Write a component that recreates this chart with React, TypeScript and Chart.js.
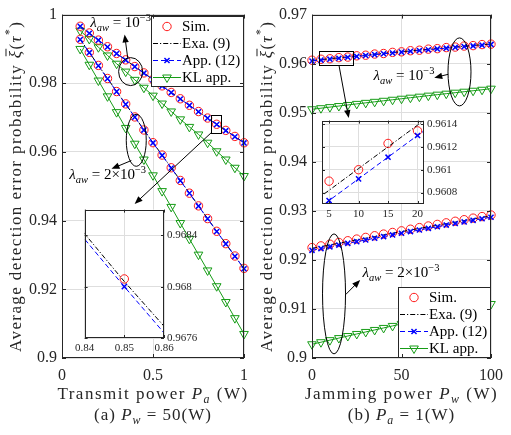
import React, { useEffect, useRef } from "react";
import { Chart, registerables } from "chart.js";

Chart.register(...registerables);

const FONT = '"Liberation Serif", "Times New Roman", Times, serif';
const TXT = "#262626";
const AXIS = "#262626";
const GRID = "#dedede";
const RED = "#ff1a1a";
const BLUE = "#0000ff";
const BLACK = "#000000";
const GREEN = "#169c16";

// ---------------- data: panel (a), Pw = 50 W ----------------
const transmitPower = [0.1, 0.15, 0.2, 0.25, 0.3, 0.35, 0.4, 0.45, 0.5, 0.55, 0.6, 0.65, 0.7, 0.75, 0.8, 0.85, 0.9, 0.95, 1.0];
// lambda_aw = 1e-3
const simA1 = [0.9966, 0.99465, 0.99258, 0.99064, 0.98868, 0.98682, 0.98487, 0.98302, 0.98109, 0.97925, 0.97732, 0.97549, 0.97359, 0.97177, 0.96988, 0.96806, 0.96628, 0.96452, 0.96268];
const exaA1 = [0.99662, 0.99461, 0.99261, 0.99062, 0.9887, 0.98679, 0.98489, 0.983, 0.98111, 0.97922, 0.97734, 0.97547, 0.97361, 0.97175, 0.9699, 0.96804, 0.9663, 0.9645, 0.9627];
const appA1 = [0.99657, 0.99456, 0.99256, 0.99057, 0.98865, 0.98674, 0.98484, 0.98295, 0.98106, 0.97917, 0.97729, 0.97542, 0.97356, 0.9717, 0.96985, 0.968, 0.9662, 0.96444, 0.96264];
const klA1 = [0.9953, 0.9929, 0.9905, 0.9881, 0.9857, 0.9834, 0.981, 0.9787, 0.9764, 0.9741, 0.9718, 0.9695, 0.9673, 0.9651, 0.9627, 0.9602, 0.9578, 0.9554, 0.953];
// lambda_aw = 2e-3
const simA2 = [0.9928, 0.989, 0.9852, 0.9814, 0.9776, 0.974, 0.9702, 0.9664, 0.9627, 0.9591, 0.9554, 0.9517, 0.948, 0.9443, 0.9406, 0.9369, 0.9333, 0.9297, 0.9261];
const exaA2 = [0.99281, 0.98899, 0.98519, 0.98141, 0.97765, 0.97395, 0.97022, 0.96645, 0.96272, 0.95908, 0.95542, 0.95172, 0.94805, 0.94432, 0.94062, 0.93693, 0.9333, 0.92968, 0.92608];
const appA2 = [0.99273, 0.98891, 0.98511, 0.98133, 0.97757, 0.97387, 0.97014, 0.96637, 0.96264, 0.959, 0.95534, 0.95164, 0.94797, 0.94424, 0.94054, 0.93685, 0.93322, 0.9296, 0.926];
const klA2 = [0.99, 0.9854, 0.9808, 0.9762, 0.9716, 0.967, 0.9624, 0.9578, 0.9532, 0.9486, 0.944, 0.9393, 0.9347, 0.9301, 0.9255, 0.9209, 0.9163, 0.9116, 0.907];

// ---------------- data: panel (b), Pa = 1 W ----------------
const jammingPower = [0, 5, 10, 15, 20, 25, 30, 35, 40, 45, 50, 55, 60, 65, 70, 75, 80, 85, 90, 95, 100];
const simB1 = [0.9607, 0.9609, 0.961, 0.96123, 0.96134, 0.9616, 0.96172, 0.96196, 0.96207, 0.9623, 0.96241, 0.96264, 0.96274, 0.96296, 0.96306, 0.96328, 0.96338, 0.96359, 0.96368, 0.96389, 0.96398];
const exaB1 = [0.96063, 0.96082, 0.96101, 0.9612, 0.96139, 0.96157, 0.96175, 0.96193, 0.9621, 0.96227, 0.96244, 0.96261, 0.96277, 0.96293, 0.96309, 0.96325, 0.96341, 0.96356, 0.96371, 0.96386, 0.96401];
const appB1 = [0.96054, 0.96073, 0.96092, 0.96111, 0.9613, 0.96148, 0.96166, 0.96184, 0.96201, 0.96218, 0.96235, 0.96252, 0.96268, 0.96284, 0.963, 0.96316, 0.96332, 0.96347, 0.96362, 0.96377, 0.96392];
const klB1 = [0.9507, 0.95092, 0.95114, 0.95136, 0.95158, 0.9518, 0.95201, 0.95222, 0.95243, 0.95264, 0.95285, 0.95306, 0.95327, 0.95348, 0.95368, 0.95388, 0.95408, 0.95428, 0.95448, 0.95468, 0.9549];
const simB2 = [0.9225, 0.92285, 0.9232, 0.92355, 0.9239, 0.92424, 0.92458, 0.92492, 0.92526, 0.92559, 0.92592, 0.92625, 0.92658, 0.92691, 0.92723, 0.92755, 0.92787, 0.92819, 0.92851, 0.92883, 0.92915];
const exaB2 = [0.92235, 0.9227, 0.92305, 0.9234, 0.92374, 0.92408, 0.92442, 0.92476, 0.9251, 0.92543, 0.92576, 0.92609, 0.92642, 0.92674, 0.92706, 0.92738, 0.9277, 0.92802, 0.92834, 0.92866, 0.92898];
const appB2 = [0.92195, 0.92231, 0.92266, 0.92302, 0.92337, 0.92372, 0.92406, 0.92441, 0.92475, 0.92509, 0.92543, 0.92577, 0.9261, 0.92643, 0.92676, 0.92709, 0.92742, 0.92774, 0.92806, 0.92838, 0.9287];
const klB2 = [0.9028, 0.90322, 0.90364, 0.90406, 0.90448, 0.9049, 0.90531, 0.90572, 0.90613, 0.90654, 0.90695, 0.90736, 0.90777, 0.90818, 0.90859, 0.909, 0.90941, 0.90981, 0.91021, 0.91061, 0.91101];

// ---------------- ticks & labels ----------------
const leftXTicks = [0, 0.5, 1];
const leftYTicks = [0.9, 0.92, 0.94, 0.96, 0.98, 1];
const rightXTicks = [0, 50, 100];
const rightYTicks = [0.9, 0.91, 0.92, 0.93, 0.94, 0.95, 0.96, 0.97];
const insetAXTicks = [0.84, 0.85, 0.86];
const insetAYTicks = [0.9676, 0.968, 0.9684];
const insetBXTicks = [5, 10, 15, 20];
const insetBYTicks = [0.9608, 0.961, 0.9612, 0.9614];
const legendLabels = ["Sim.", "Exa. (9)", "App. (12)", "KL app."];

type Seg = { t: string; it?: boolean; sub?: boolean; sup?: boolean; bar?: boolean };

const yTitle: Seg[] = [{ t: "Average detection error probability " }, { t: "ξ", it: true, bar: true }, { t: "(" }, { t: "τ", it: true }, { t: "*", sup: true }, { t: ")" }];
const xTitleA: Seg[] = [{ t: "Transmit power " }, { t: "P", it: true }, { t: "a", it: true, sub: true }, { t: " (W)" }];
const captionA: Seg[] = [{ t: "(a) " }, { t: "P", it: true }, { t: "w", it: true, sub: true }, { t: " = 50(W)" }];
const xTitleB: Seg[] = [{ t: "Jamming power " }, { t: "P", it: true }, { t: "w", it: true, sub: true }, { t: " (W)" }];
const captionB: Seg[] = [{ t: "(b) " }, { t: "P", it: true }, { t: "a", it: true, sub: true }, { t: " = 1(W)" }];
const lambda1: Seg[] = [{ t: "λ", it: true }, { t: "aw", it: true, sub: true }, { t: " = 10" }, { t: "−3", sup: true }];
const lambda2: Seg[] = [{ t: "λ", it: true }, { t: "aw", it: true, sub: true }, { t: " = 2×10" }, { t: "−3", sup: true }];

type Note =
  | { kind: "ellipse"; x: number; y: number; rx: number; ry: number }
  | { kind: "arrow"; x1: number; y1: number; x2: number; y2: number }
  | { kind: "rect"; x1: number; y1: number; x2: number; y2: number }
  | { kind: "text"; x: number; y: number; segs: Seg[] };

// annotation anchors in data coordinates
const notesA: Note[] = [
  { kind: "ellipse", x: 0.377, y: 0.9834, rx: 12, ry: 14 },
  { kind: "arrow", x1: 0.361, y1: 0.98743, x2: 0.344, y2: 0.9942 },
  { kind: "text", x: 0.322, y: 0.99771, segs: lambda1 },
  { kind: "ellipse", x: 0.408, y: 0.9634, rx: 10, ry: 26 },
  { kind: "arrow", x1: 0.381, y1: 0.9575, x2: 0.272, y2: 0.9551 },
  { kind: "text", x: 0.251, y: 0.95343, segs: lambda2 },
  { kind: "rect", x1: 0.82, y1: 0.9709, x2: 0.873, y2: 0.9656 },
  { kind: "arrow", x1: 0.82, y1: 0.9656, x2: 0.399, y2: 0.94486 },
];
const notesB: Note[] = [
  { kind: "ellipse", x: 82.4, y: 0.95832, rx: 11.5, ry: 34 },
  { kind: "arrow", x1: 76.05, y1: 0.95782, x2: 68.3, y2: 0.95715 },
  { kind: "text", x: 51.4, y: 0.95768, segs: lambda1 },
  { kind: "rect", x1: 3.8, y1: 0.96248, x2: 22.7, y2: 0.95962 },
  { kind: "arrow", x1: 15.1, y1: 0.95962, x2: 20.5, y2: 0.9489 },
  { kind: "ellipse", x: 12.3, y: 0.91307, rx: 11.5, ry: 60 },
  { kind: "arrow", x1: 18.76, y1: 0.91291, x2: 26.9, y2: 0.91591 },
  { kind: "text", x: 49.7, y: 0.91756, segs: lambda2 },
];

// ---------------- drawing helpers ----------------
function segFont(s: Seg, size: number) {
  const fs = s.sub || s.sup ? size * 0.7 : size;
  return `${s.it ? "italic " : ""}${fs}px ${FONT}`;
}

function drawRich(ctx: any, segs: Seg[], x: number, y: number, size: number, opts: { align?: string; rotate?: number; spacing?: number; color?: string } = {}) {
  ctx.save();
  ctx.translate(x, y);
  if (opts.rotate) ctx.rotate(opts.rotate);
  ctx.letterSpacing = `${opts.spacing ?? 0}px`;
  ctx.textBaseline = "alphabetic";
  ctx.textAlign = "left";
  ctx.fillStyle = opts.color ?? TXT;
  ctx.strokeStyle = opts.color ?? TXT;
  const widths = segs.map((s) => {
    ctx.font = segFont(s, size);
    return ctx.measureText(s.t).width;
  });
  const total = widths.reduce((a, b) => a + b, 0);
  let cx = opts.align === "left" ? 0 : opts.align === "right" ? -total : -total / 2;
  const base = size * 0.33;
  segs.forEach((s, i) => {
    ctx.font = segFont(s, size);
    const dy = s.sub ? size * 0.25 : s.sup ? -size * 0.42 : 0;
    ctx.fillText(s.t, cx, base + dy);
    if (s.bar) {
      ctx.lineWidth = Math.max(1, size * 0.06);
      ctx.beginPath();
      ctx.moveTo(cx + size * 0.12, base - size * 0.86);
      ctx.lineTo(cx + widths[i] + size * 0.05, base - size * 0.86);
      ctx.stroke();
    }
    cx += widths[i];
  });
  ctx.restore();
}

function drawMarker(ctx: any, style: string, x: number, y: number, r: number, color: string, lw: number, rot = 0) {
  ctx.save();
  ctx.strokeStyle = color;
  ctx.lineWidth = lw;
  ctx.setLineDash([]);
  ctx.beginPath();
  if (style === "circle") {
    ctx.arc(x, y, r, 0, Math.PI * 2);
  } else if (style === "crossRot") {
    const d = r * Math.SQRT1_2;
    ctx.moveTo(x - d, y - d);
    ctx.lineTo(x + d, y + d);
    ctx.moveTo(x + d, y - d);
    ctx.lineTo(x - d, y + d);
  } else if (style === "triangle") {
    let rad = (rot * Math.PI) / 180;
    ctx.moveTo(x + Math.sin(rad) * r, y - Math.cos(rad) * r);
    rad += (2 * Math.PI) / 3;
    ctx.lineTo(x + Math.sin(rad) * r, y - Math.cos(rad) * r);
    rad += (2 * Math.PI) / 3;
    ctx.lineTo(x + Math.sin(rad) * r, y - Math.cos(rad) * r);
    ctx.closePath();
  }
  ctx.stroke();
  ctx.restore();
}

function drawFrame(ctx: any, chart: any, tickLen: number) {
  const a = chart.chartArea;
  const xs = chart.scales.x;
  const ys = chart.scales.y;
  ctx.save();
  ctx.strokeStyle = AXIS;
  ctx.lineWidth = 1;
  ctx.setLineDash([]);
  ctx.beginPath();
  xs.ticks.forEach((t: any) => {
    const px = Math.round(xs.getPixelForValue(t.value)) + 0.5;
    ctx.moveTo(px, a.bottom);
    ctx.lineTo(px, a.bottom - tickLen);
    ctx.moveTo(px, a.top);
    ctx.lineTo(px, a.top + tickLen);
  });
  ys.ticks.forEach((t: any) => {
    const py = Math.round(ys.getPixelForValue(t.value)) + 0.5;
    ctx.moveTo(a.left, py);
    ctx.lineTo(a.left + tickLen, py);
    ctx.moveTo(a.right, py);
    ctx.lineTo(a.right - tickLen, py);
  });
  ctx.stroke();
  ctx.strokeRect(Math.round(a.left) + 0.5, Math.round(a.top) + 0.5, Math.round(a.right - a.left) - 1, Math.round(a.bottom - a.top) - 1);
  ctx.restore();
}

function drawArrow(ctx: any, x1: number, y1: number, x2: number, y2: number) {
  const ang = Math.atan2(y2 - y1, x2 - x1);
  const L = 8;
  const W = 3.2;
  ctx.beginPath();
  ctx.moveTo(x1, y1);
  ctx.lineTo(x2 - Math.cos(ang) * L * 0.8, y2 - Math.sin(ang) * L * 0.8);
  ctx.stroke();
  ctx.beginPath();
  ctx.moveTo(x2, y2);
  ctx.lineTo(x2 - Math.cos(ang) * L - Math.sin(ang) * W, y2 - Math.sin(ang) * L + Math.cos(ang) * W);
  ctx.lineTo(x2 - Math.cos(ang) * L + Math.sin(ang) * W, y2 - Math.sin(ang) * L - Math.cos(ang) * W);
  ctx.closePath();
  ctx.fill();
}

function drawLegend(ctx: any, chart: any, corner: "tr" | "br") {
  const a = chart.chartArea;
  const w = 93;
  const h = 71;
  const x0 = Math.round(a.right) - w;
  const y0 = corner === "tr" ? Math.round(a.top) + 1 : Math.round(a.bottom) - h;
  ctx.save();
  ctx.fillStyle = "#ffffff";
  ctx.fillRect(x0, y0, w, h);
  ctx.strokeStyle = AXIS;
  ctx.lineWidth = 1;
  ctx.strokeRect(x0 + 0.5, y0 + 0.5, w - 1, h - 1);
  chart.data.datasets.slice(0, 4).forEach((ds: any, i: number) => {
    const cy = y0 + 10.5 + i * 17;
    if (ds.showLine !== false) {
      ctx.save();
      ctx.strokeStyle = ds.borderColor;
      ctx.lineWidth = ds.borderWidth;
      ctx.setLineDash(ds.borderDash || []);
      ctx.beginPath();
      ctx.moveTo(x0 + 2, cy);
      ctx.lineTo(x0 + 30, cy);
      ctx.stroke();
      ctx.restore();
    }
    if (ds.pointRadius > 0) drawMarker(ctx, ds.pointStyle, x0 + 16, cy, ds.pointRadius, ds.pointBorderColor, ds.pointBorderWidth, ds.pointRotation || 0);
    ctx.fillStyle = BLACK;
    ctx.font = `15px ${FONT}`;
    ctx.textBaseline = "middle";
    ctx.textAlign = "left";
    ctx.fillText(ds.label, x0 + 31, cy + 0.5);
  });
  ctx.restore();
}

function drawNotes(ctx: any, chart: any, notes: Note[]) {
  const xs = chart.scales.x;
  const ys = chart.scales.y;
  const X = (v: number) => xs.getPixelForValue(v);
  const Y = (v: number) => ys.getPixelForValue(v);
  ctx.save();
  ctx.strokeStyle = BLACK;
  ctx.fillStyle = BLACK;
  ctx.lineWidth = 1;
  ctx.setLineDash([]);
  for (const n of notes) {
    if (n.kind === "ellipse") {
      ctx.beginPath();
      ctx.ellipse(X(n.x), Y(n.y), n.rx, n.ry, 0, 0, Math.PI * 2);
      ctx.stroke();
    } else if (n.kind === "arrow") {
      drawArrow(ctx, X(n.x1), Y(n.y1), X(n.x2), Y(n.y2));
    } else if (n.kind === "rect") {
      const x1 = Math.round(X(n.x1)) + 0.5;
      const y1 = Math.round(Y(n.y1)) + 0.5;
      ctx.strokeRect(x1, y1, Math.round(X(n.x2) - X(n.x1)), Math.round(Y(n.y2) - Y(n.y1)));
    } else if (n.kind === "text") {
      drawRich(ctx, n.segs, X(n.x), Y(n.y), 15, { color: BLACK });
    }
  }
  ctx.restore();
}

function pts(xs: number[], ys: number[]) {
  return xs.map((x, i) => ({ x, y: ys[i] }));
}

function group(xs: number[], sim: number[], exa: number[], app: number[], kl: number[], clip: any) {
  return [
    { label: legendLabels[0], data: pts(xs, sim), showLine: false, borderColor: RED, backgroundColor: "transparent", pointStyle: "circle", pointRadius: 4.2, pointBorderWidth: 1, pointBorderColor: RED, pointBackgroundColor: "transparent", order: 2, clip },
    { label: legendLabels[1], data: pts(xs, exa), borderColor: BLACK, borderWidth: 1, borderDash: [5, 2, 1.2, 2], pointRadius: 0, fill: false, tension: 0, order: 1, clip },
    { label: legendLabels[2], data: pts(xs, app), borderColor: BLUE, borderWidth: 1, borderDash: [5, 3], pointStyle: "crossRot", pointRadius: 3.6, pointBorderWidth: 1.5, pointBorderColor: BLUE, pointBackgroundColor: BLUE, fill: false, tension: 0, order: 0, clip },
    { label: legendLabels[3], data: pts(xs, kl), borderColor: GREEN, borderWidth: 1, pointStyle: "triangle", pointRotation: 180, pointRadius: 5, pointBorderWidth: 1, pointBorderColor: GREEN, pointBackgroundColor: "transparent", fill: false, tension: 0, order: 3, clip },
  ];
}

function axis(min: number, max: number, ticks: number[], position: string, size: number, fit: (s: any) => void, pad: number, gridOn = true) {
  return {
    type: "linear",
    position,
    min,
    max,
    afterBuildTicks: (s: any) => {
      s.ticks = ticks.map((v) => ({ value: v }));
    },
    afterFit: fit,
    grid: { display: gridOn, color: GRID, lineWidth: 1, drawTicks: false },
    border: { display: false },
    ticks: { autoSkip: false, maxRotation: 0, minRotation: 0, padding: pad, color: TXT, font: { family: FONT, size }, callback: (v: any) => String(v) },
  };
}

function mainConfig(datasets: any[], xr: [number, number], yr: [number, number], xt: number[], yt: number[], padRight: number, padTop: number, decor: any) {
  return {
    type: "line",
    data: { datasets },
    options: {
      animation: false,
      responsive: false,
      maintainAspectRatio: false,
      events: [],
      layout: { padding: { left: 0, right: padRight, top: padTop, bottom: 0 } },
      plugins: { legend: { display: false }, tooltip: { enabled: false } },
      scales: {
        x: axis(xr[0], xr[1], xt, "bottom", 16, (s: any) => { s.height = 77; }, 8),
        y: axis(yr[0], yr[1], yt, "left", 16, (s: any) => { s.width = 62; }, 5),
      },
    },
    plugins: [decor],
  };
}

function insetConfig(datasets: any[], xr: [number, number], yr: [number, number], xt: number[], yt: number[], xH: number, yW: number) {
  return {
    type: "line",
    data: { datasets },
    options: {
      animation: false,
      responsive: false,
      maintainAspectRatio: false,
      events: [],
      layout: { padding: { left: 2, right: 0, top: 2, bottom: 0 } },
      plugins: { legend: { display: false }, tooltip: { enabled: false } },
      scales: {
        x: axis(xr[0], xr[1], xt, "bottom", 11, (s: any) => { s.height = xH; }, 4),
        y: axis(yr[0], yr[1], yt, "right", 11, (s: any) => { s.width = yW; }, 3),
      },
    },
    plugins: [
      {
        id: "insetBg",
        beforeDraw(chart: any) {
          const a = chart.chartArea;
          chart.ctx.save();
          chart.ctx.fillStyle = "#ffffff";
          chart.ctx.fillRect(a.left, a.top, a.right - a.left, a.bottom - a.top);
          chart.ctx.restore();
        },
        afterDraw(chart: any) {
          drawFrame(chart.ctx, chart, 3);
        },
      },
    ],
  };
}

function mainDecor(id: string, notes: Note[], corner: "tr" | "br", xTitle: Seg[], caption: Seg[], yTitleX: number) {
  return {
    id,
    afterDraw(chart: any) {
      const ctx = chart.ctx;
      const a = chart.chartArea;
      drawNotes(ctx, chart, notes);
      drawLegend(ctx, chart, corner);
      drawFrame(ctx, chart, 4);
      drawRich(ctx, yTitle, yTitleX, (a.top + a.bottom) / 2, 17, { rotate: -Math.PI / 2, spacing: 1.4 });
      drawRich(ctx, xTitle, (a.left + a.right) / 2, 393, 17, { spacing: 1.5 });
      drawRich(ctx, caption, (a.left + a.right) / 2, 414, 17, { spacing: 1 });
    },
  };
}

export default function App() {
  const leftRef = useRef<HTMLCanvasElement>(null);
  const rightRef = useRef<HTMLCanvasElement>(null);
  const insetARef = useRef<HTMLCanvasElement>(null);
  const insetBRef = useRef<HTMLCanvasElement>(null);

  useEffect(() => {
    document.body.style.margin = "0";
    Chart.defaults.font.family = FONT;
    const dsA = [...group(transmitPower, simA1, exaA1, appA1, klA1, false), ...group(transmitPower, simA2, exaA2, appA2, klA2, false)];
    const dsB = [...group(jammingPower, simB1, exaB1, appB1, klB1, false), ...group(jammingPower, simB2, exaB2, appB2, klB2, false)];
    const charts: Chart[] = [];
    charts.push(new Chart(leftRef.current as any, mainConfig(dsA, [0, 1], [0.9, 1], leftXTicks, leftYTicks, 11, 8, mainDecor("decorA", notesA, "tr", xTitleA, captionA, 15)) as any));
    charts.push(new Chart(rightRef.current as any, mainConfig(dsB, [0, 100], [0.9, 0.97], rightXTicks, rightYTicks, 14, 7, mainDecor("decorB", notesB, "br", xTitleB, captionB, 16)) as any));
    charts.push(new Chart(insetARef.current as any, insetConfig(group(transmitPower, simA1, exaA1, appA1, klA1, 0), [0.84, 0.86], [0.9676, 0.9686], insetAXTicks, insetAYTicks, 22, 40) as any));
    charts.push(new Chart(insetBRef.current as any, insetConfig(group(jammingPower, simB1, exaB1, appB1, klB1, 0), [3.8, 21.1], [0.9607, 0.96143], insetBXTicks, insetBYTicks, 18, 40) as any));
    return () => charts.forEach((c) => c.destroy());
  }, []);

  const abs = (left: number, top: number, w: number, h: number): React.CSSProperties => ({ position: "absolute", left, top, width: w, height: h });

  return (
    <div style={{ position: "relative", width: 511, height: 435, background: "#ffffff", overflow: "hidden" }}>
      <canvas ref={leftRef} width={256} height={435} style={abs(0, 0, 256, 435)} />
      <canvas ref={rightRef} width={261} height={435} style={abs(250, 0, 261, 435)} />
      <canvas ref={insetARef} width={133} height={160} style={abs(71, 200, 133, 160)} />
      <canvas ref={insetBRef} width={148} height={111} style={abs(316, 111, 148, 111)} />
    </div>
  );
}
